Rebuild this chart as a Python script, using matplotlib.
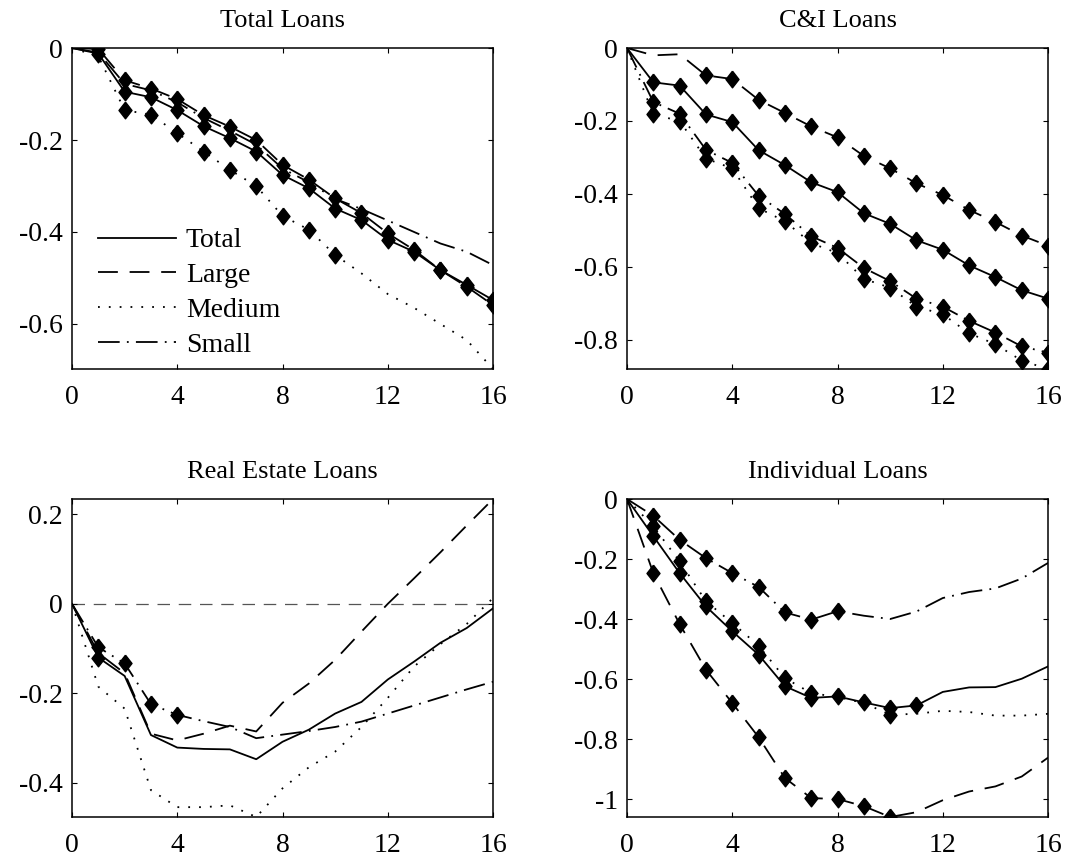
import matplotlib
matplotlib.use("Agg")
import matplotlib.pyplot as plt
from matplotlib.ticker import FuncFormatter

plt.rcParams["font.family"] = ["Liberation Serif", "DejaVu Serif"]
plt.rcParams["axes.unicode_minus"] = False

horizon = list(range(17))
series_names = ["Total", "Large", "Medium", "Small"]

# Total loans
total_tl = [0, -0.012, -0.095, -0.107, -0.135, -0.170, -0.196, -0.225, -0.276, -0.305, -0.349, -0.374, -0.417, -0.443, -0.483, -0.515, -0.548]
large_tl = [0, -0.002, -0.070, -0.088, -0.111, -0.146, -0.171, -0.200, -0.254, -0.286, -0.327, -0.359, -0.403, -0.439, -0.483, -0.519, -0.559]
medium_tl = [0, -0.018, -0.135, -0.145, -0.185, -0.225, -0.265, -0.300, -0.365, -0.395, -0.450, -0.490, -0.535, -0.565, -0.600, -0.635, -0.698]
small_tl = [0, -0.010, -0.078, -0.092, -0.118, -0.152, -0.180, -0.210, -0.262, -0.292, -0.328, -0.350, -0.375, -0.400, -0.425, -0.443, -0.472]

# C&I loans
total_ci = [0, -0.094, -0.103, -0.182, -0.203, -0.280, -0.321, -0.368, -0.395, -0.453, -0.482, -0.527, -0.553, -0.596, -0.628, -0.664, -0.687]
large_ci = [0, -0.020, -0.017, -0.075, -0.085, -0.142, -0.178, -0.215, -0.245, -0.296, -0.330, -0.371, -0.403, -0.444, -0.477, -0.514, -0.542]
medium_ci = [0, -0.182, -0.200, -0.303, -0.330, -0.439, -0.475, -0.535, -0.562, -0.633, -0.657, -0.709, -0.730, -0.782, -0.812, -0.857, -0.880]
small_ci = [0, -0.148, -0.180, -0.279, -0.315, -0.405, -0.455, -0.516, -0.548, -0.603, -0.639, -0.687, -0.709, -0.748, -0.780, -0.818, -0.835]

# Real estate loans
total_re = [0, -0.120, -0.161, -0.293, -0.321, -0.324, -0.325, -0.347, -0.308, -0.281, -0.245, -0.219, -0.169, -0.129, -0.087, -0.054, -0.010]
large_re = [0, -0.110, -0.155, -0.290, -0.305, -0.290, -0.272, -0.285, -0.221, -0.178, -0.125, -0.062, 0.000, 0.057, 0.115, 0.175, 0.234]
medium_re = [0, -0.185, -0.234, -0.416, -0.454, -0.454, -0.450, -0.476, -0.412, -0.365, -0.330, -0.275, -0.210, -0.140, -0.090, -0.045, 0.013]
small_re = [0, -0.097, -0.133, -0.224, -0.248, -0.262, -0.275, -0.300, -0.292, -0.284, -0.275, -0.263, -0.245, -0.227, -0.209, -0.191, -0.174]

# Individual loans
total_ind = [0, -0.124, -0.247, -0.358, -0.441, -0.519, -0.624, -0.663, -0.658, -0.678, -0.697, -0.688, -0.643, -0.628, -0.627, -0.599, -0.558]
large_ind = [0, -0.247, -0.417, -0.569, -0.680, -0.794, -0.930, -0.997, -1.000, -1.024, -1.060, -1.044, -1.004, -0.975, -0.958, -0.925, -0.862]
medium_ind = [0, -0.091, -0.208, -0.341, -0.413, -0.489, -0.597, -0.647, -0.660, -0.680, -0.719, -0.716, -0.706, -0.710, -0.722, -0.722, -0.716]
small_ind = [0, -0.056, -0.136, -0.197, -0.247, -0.293, -0.378, -0.402, -0.374, -0.389, -0.400, -0.375, -0.330, -0.310, -0.298, -0.265, -0.213]

# horizons marked with a diamond for each series
marks_tl = [list(range(1, 17)), list(range(1, 17)), list(range(2, 11)), []]
marks_ci = [list(range(1, 17)), list(range(3, 17)), list(range(1, 17)), list(range(1, 17))]
marks_re = [[1], [], [], [1, 2, 3, 4]]
marks_ind = [list(range(1, 12)), list(range(1, 11)), [1, 2, 3, 4, 5, 6, 7, 10], list(range(1, 9))]

panels = [
    ("Total Loans", [total_tl, large_tl, medium_tl, small_tl], marks_tl, [0, -0.2, -0.4, -0.6]),
    ("C&I Loans", [total_ci, large_ci, medium_ci, small_ci], marks_ci, [0, -0.2, -0.4, -0.6, -0.8]),
    ("Real Estate Loans", [total_re, large_re, medium_re, small_re], marks_re, [0.2, 0, -0.2, -0.4]),
    ("Individual Loans", [total_ind, large_ind, medium_ind, small_ind], marks_ind, [0, -0.2, -0.4, -0.6, -0.8, -1]),
]

line_styles = ["-", (0, (11, 6.5)), (0, (1, 5)), (0, (12, 4, 1, 4))]
diamond = [(0, 1), (0.78, 0), (0, -1), (-0.78, 0), (0, 1)]

fig = plt.figure(figsize=(10.7, 8.61), dpi=100)
boxes = [
    [0.0673, 0.5714, 0.3935, 0.3728],
    [0.5860, 0.5714, 0.3935, 0.3728],
    [0.0673, 0.0511, 0.3935, 0.3693],
    [0.5860, 0.0511, 0.3935, 0.3693],
]

fmt = FuncFormatter(lambda v, pos: "%g" % round(v, 3))

for i, (title, data, marks, yt) in enumerate(panels):
    ax = fig.add_axes(boxes[i])
    for name, vals, ls, idx in zip(series_names, data, line_styles, marks):
        ax.plot(horizon, vals, color="black", lw=1.3, ls=ls, label=name)
        if idx:
            ax.plot([horizon[k] for k in idx], [vals[k] for k in idx], ls="none",
                    marker=diamond, ms=12, color="black")
    if title == "Real Estate Loans":
        ax.axhline(0, color="#555555", lw=0.9, ls=(0, (10, 7)), zorder=0)
    lo = min(min(v) for v in data)
    hi = max(max(v) for v in data)
    ax.set_xlim(0, 16)
    ax.set_ylim(lo, hi)
    ax.set_xticks([0, 4, 8, 12, 16])
    ax.set_yticks(yt)
    ax.yaxis.set_major_formatter(fmt)
    ax.tick_params(direction="in", length=3.3, width=0.8, top=True, right=True, labelsize=20)
    ax.tick_params(axis="x", pad=11.5)
    ax.tick_params(axis="y", pad=6.5)
    for sp in ax.spines.values():
        sp.set_linewidth(1.1)
    ax.set_title(title, fontsize=19, pad=15)
    if i == 0:
        ax.legend(loc="lower left", bbox_to_anchor=(0.036, 0.0), frameon=False, fontsize=20,
                  handlelength=2.8, handletextpad=0.35, labelspacing=0.34, borderaxespad=0.0)

fig.savefig("out.png", dpi=100)
